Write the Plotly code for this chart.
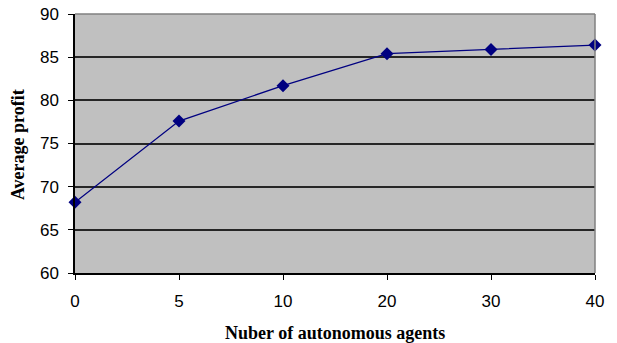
import plotly.graph_objects as go

# Number of autonomous agents (evenly spaced categories) and the average profit
agents = ["0", "5", "10", "20", "30", "40"]
avg_profit = [68.2, 77.6, 81.7, 85.4, 85.9, 86.4]
y_ticks = [60, 65, 70, 75, 80, 85, 90]

positions = list(range(len(agents)))

title_font = dict(family="Liberation Serif, Times New Roman", size=18, color="black")

fig = go.Figure()
fig.add_trace(go.Scatter(
    x=positions,
    y=avg_profit,
    mode="lines+markers",
    line=dict(color="#000080", width=1.3),
    marker=dict(symbol="diamond", size=10, color="#000080"),
    showlegend=False,
    cliponaxis=False,
))

fig.update_layout(
    width=617,
    height=343,
    margin=dict(l=75, r=22, t=14, b=70, autoexpand=False),
    paper_bgcolor="white",
    plot_bgcolor="#C0C0C0",
    font=dict(family="Liberation Sans, Arial", size=17, color="black"),
    shapes=[
        # top and right frame of the plotting area
        dict(type="line", xref="paper", yref="paper", x0=0, x1=1, y0=1, y1=1,
             line=dict(color="#808080", width=1.5)),
        dict(type="line", xref="paper", yref="paper", x0=1, x1=1, y0=0, y1=1,
             line=dict(color="#808080", width=1.5)),
    ],
    annotations=[
        dict(text="<b>Nuber of autonomous agents</b>", xref="paper", yref="paper",
             x=0.5, y=0, yshift=-60, xanchor="center", yanchor="middle",
             showarrow=False, font=title_font),
        dict(text="<b>Average profit</b>", xref="paper", yref="paper",
             x=-0.1096, y=0.494, xanchor="center", yanchor="middle",
             textangle=-90, showarrow=False, font=title_font),
    ],
)

fig.update_xaxes(
    range=[0, len(agents) - 1],
    tickmode="array",
    tickvals=positions,
    ticktext=agents,
    ticks="outside",
    ticklen=5,
    tickcolor="black",
    ticklabelstandoff=7,
    showgrid=False,
    zeroline=False,
    showline=True,
    linecolor="black",
    linewidth=1.5,
    automargin=False,
)

fig.update_yaxes(
    range=[60, 90],
    tickmode="array",
    tickvals=y_ticks,
    ticks="outside",
    ticklen=5,
    tickcolor="black",
    ticklabelstandoff=6,
    showgrid=True,
    gridcolor="#262626",
    gridwidth=1.5,
    zeroline=False,
    showline=True,
    linecolor="black",
    linewidth=1.5,
    automargin=False,
)

fig.write_html("out.html")
